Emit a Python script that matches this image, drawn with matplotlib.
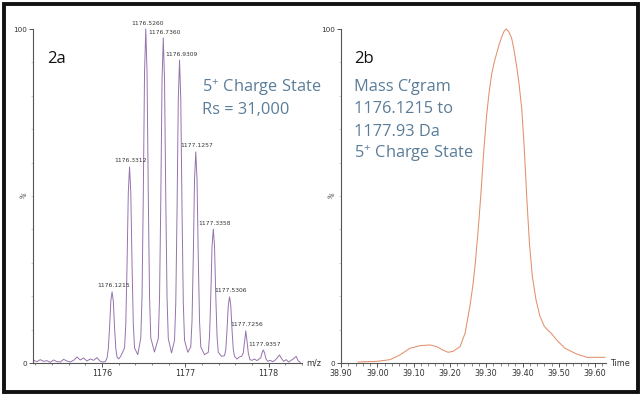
import matplotlib
matplotlib.use("Agg")
import matplotlib.pyplot as plt
from matplotlib.patches import Rectangle
from matplotlib.ticker import MultipleLocator, FixedLocator

# ---------------- data ----------------
# Panel 2a: mass spectrum profile (m/z, relative intensity %)
mz_profile = [
    1175.18, 1175.22, 1175.26, 1175.30, 1175.34, 1175.38, 1175.42, 1175.46, 1175.50, 1175.54,
    1175.58, 1175.62, 1175.66, 1175.70, 1175.74, 1175.78, 1175.82, 1175.86, 1175.90, 1175.94,
    1175.98, 1176.01, 1176.04,
    1176.0615, 1176.0765, 1176.0915, 1176.1065, 1176.1215, 1176.1365, 1176.1515, 1176.1665, 1176.1815,
    1176.200, 1176.225,
    1176.2712, 1176.2862, 1176.3012, 1176.3162, 1176.3312, 1176.3462, 1176.3612, 1176.3762, 1176.3912,
    1176.430,
    1176.466, 1176.481, 1176.496, 1176.511, 1176.526, 1176.541, 1176.556, 1176.571, 1176.586,
    1176.630,
    1176.676, 1176.691, 1176.706, 1176.721, 1176.736, 1176.751, 1176.766, 1176.781, 1176.796,
    1176.835,
    1176.8709, 1176.8859, 1176.9009, 1176.9159, 1176.9309, 1176.9459, 1176.9609, 1176.9759, 1176.9909,
    1177.030,
    1177.0657, 1177.0807, 1177.0957, 1177.1107, 1177.1257, 1177.1407, 1177.1557, 1177.1707, 1177.1857,
    1177.230,
    1177.2758, 1177.2908, 1177.3058, 1177.3208, 1177.3358, 1177.3508, 1177.3658, 1177.3808, 1177.3958,
    1177.435,
    1177.4706, 1177.4856, 1177.5006, 1177.5156, 1177.5306, 1177.5456, 1177.5606, 1177.5756, 1177.5906,
    1177.620, 1177.650, 1177.675,
    1177.6956, 1177.7106, 1177.7256, 1177.7406, 1177.7556, 1177.775,
    1177.800, 1177.830, 1177.860, 1177.885,
    1177.905, 1177.920, 1177.9357, 1177.950, 1177.968, 1177.990, 1178.020, 1178.050, 1178.080, 1178.105,
    1178.130, 1178.155, 1178.180, 1178.210, 1178.240, 1178.270, 1178.300,
    1178.330, 1178.355, 1178.380,
]
int_profile = [
    0.8, 0.4, 1.0, 0.5, 0.7, 0.2, 0.9, 0.4, 0.3, 1.1,
    0.6, 0.3, 0.8, 1.8, 0.9, 1.5, 0.6, 1.2, 0.8, 1.6,
    0.5, 0.3, 0.4,
    1.5, 4.3, 10.6, 18.5, 21.3, 18.5, 10.6, 4.3, 1.8,
    1.2, 2.0,
    4.5, 11.7, 29.4, 51.0, 58.7, 51.0, 29.4, 11.7, 4.5,
    2.5,
    7.5, 20.0, 50.0, 87.0, 100.0, 87.0, 50.0, 20.0, 7.5,
    3.3,
    7.3, 19.5, 48.7, 84.7, 97.3, 84.7, 48.7, 19.5, 7.3,
    3.0,
    6.8, 18.1, 45.4, 78.9, 90.7, 78.9, 45.4, 18.1, 6.8,
    3.2,
    4.8, 12.6, 31.6, 55.0, 63.2, 55.0, 31.6, 12.6, 4.8,
    2.5,
    3.2, 8.0, 20.0, 34.9, 40.1, 34.9, 20.0, 8.0, 3.2,
    2.0,
    2.2, 4.0, 9.9, 17.2, 19.8, 17.2, 9.9, 4.0, 2.0,
    1.2, 1.8, 2.0,
    3.0, 6.2, 9.6, 6.5, 3.0, 1.0,
    0.8, 1.2, 0.7, 1.2,
    1.6, 3.0, 3.9, 3.1, 1.2, 0.5, 0.8, 0.4, 0.9, 1.6,
    2.4, 1.3, 0.5, 1.0, 0.3, 0.8, 1.3,
    2.0, 0.6, 0.2,
]
peak_mz = [1176.1215, 1176.3312, 1176.5260, 1176.7360, 1176.9309,
           1177.1257, 1177.3358, 1177.5306, 1177.7256, 1177.9357]
peak_int = [21.3, 58.7, 100.0, 97.3, 90.7, 63.2, 40.1, 19.8, 9.6, 3.9]
peak_labels = ["1176.1215", "1176.3312", "1176.5260", "1176.7360", "1176.9309",
               "1177.1257", "1177.3358", "1177.5306", "1177.7256", "1177.9357"]
mz_ticks = [1176, 1177, 1178]

# Panel 2b: mass chromatogram (time, relative intensity %)
time_profile = [38.947, 39.000, 39.035, 39.062, 39.090, 39.118, 39.145, 39.164, 39.180, 39.195,
                39.209, 39.228, 39.242, 39.255, 39.263, 39.270, 39.278, 39.285, 39.293, 39.301,
                39.308, 39.315, 39.322, 39.329, 39.336, 39.343, 39.349, 39.355, 39.362, 39.370,
                39.377, 39.384, 39.390, 39.398, 39.405, 39.412, 39.419, 39.427, 39.437, 39.448,
                39.460, 39.470, 39.480, 39.494, 39.517, 39.549, 39.577, 39.627]
chrom_int = [0.3, 0.5, 1.0, 2.4, 4.4, 5.2, 5.4, 4.9, 3.9, 3.2,
             3.5, 4.9, 9.0, 16.9, 23.0, 30.0, 40.0, 50.0, 63.0, 74.0,
             81.0, 86.5, 90.0, 92.8, 95.5, 97.7, 99.3, 100.0, 99.2, 97.3,
             93.5, 88.7, 84.0, 76.0, 64.0, 49.0, 36.0, 26.0, 19.0, 14.0,
             11.0, 9.8, 8.8, 6.9, 4.4, 2.7, 1.7, 1.7]
time_ticks = [38.90, 39.00, 39.10, 39.20, 39.30, 39.40, 39.50, 39.60]
time_tick_labels = ["38.90", "39.00", "39.10", "39.20", "39.30", "39.40", "39.50", "39.60"]

# annotation text lines
left_lines = ["5$^{+}$ Charge State", "Rs = 31,000"]
right_lines = ["Mass C\u2019gram", "1176.1215 to", "1177.93 Da", "5$^{+}$ Charge State"]

# ---------------- styling ----------------
plt.rcParams['mathtext.fontset'] = 'custom'
plt.rcParams['mathtext.rm'] = 'Open Sans'
plt.rcParams['mathtext.it'] = 'Open Sans'
plt.rcParams['mathtext.bf'] = 'Open Sans'

W, H = 644, 398
fig = plt.figure(figsize=(W / 100, H / 100), dpi=100)
fig.patch.set_facecolor('white')

spec_color = '#9573ad'
chrom_color = '#e2906a'
text_blue = '#5a7c98'
axis_color = '#555555'
tick_fs = 5.2
big_fs = 11.8

AX_TOP, AX_BOT = 29, 363

def px_axes(x0, x1):
    return fig.add_axes([x0 / W, 1 - AX_BOT / H, (x1 - x0) / W, (AX_BOT - AX_TOP) / H])

def yfrac(py):
    return 1 - (py - AX_TOP) / (AX_BOT - AX_TOP)

def style_axes(ax):
    for s in ['top', 'right']:
        ax.spines[s].set_visible(False)
    for s in ['left', 'bottom']:
        ax.spines[s].set_color(axis_color)
        ax.spines[s].set_linewidth(0.8)
    ax.set_ylim(0, 100)
    ax.yaxis.set_major_locator(FixedLocator([0, 100]))
    ax.set_yticklabels(['0', '100'])
    ax.yaxis.set_minor_locator(MultipleLocator(10))
    ax.tick_params(axis='y', which='major', length=3, width=0.7, colors=axis_color,
                   labelsize=tick_fs, pad=1, labelcolor='#333333')
    ax.tick_params(axis='y', which='minor', length=1.5, width=0.5, colors='#bbbbbb')
    ax.tick_params(axis='x', which='major', length=3, width=0.7, colors=axis_color,
                   labelsize=tick_fs + 0.6, pad=1.5, labelcolor='#333333')
    ax.tick_params(axis='x', which='minor', length=2, width=0.5, colors=axis_color)
    ax.text(-0.035, 0.5, '%', transform=ax.transAxes, rotation=60, fontsize=tick_fs,
            ha='center', va='center', color='#444444')
    ax.patch.set_alpha(0)

def write_lines(ax, xf, baselines_px, lines):
    for py, line in zip(baselines_px, lines):
        ax.text(xf, yfrac(py), line, transform=ax.transAxes, fontsize=big_fs,
                family='Open Sans', color=text_blue, va='baseline', ha='left')

# ---- Panel 2a ----
ax1 = px_axes(33, 302)
style_axes(ax1)
ax1.plot(mz_profile, int_profile, color=spec_color, lw=0.7, clip_on=False)
ax1.set_xlim(1175.173, 1178.40)
ax1.xaxis.set_major_locator(FixedLocator(mz_ticks))
ax1.set_xticklabels([str(t) for t in mz_ticks])
ax1.xaxis.set_minor_locator(MultipleLocator(0.2))
ax1.tick_params(axis='x', which='minor', length=1.2)
for x, y, lab in zip(peak_mz, peak_int, peak_labels):
    ax1.annotate(lab, xy=(x, y), xytext=(1, 2.5), textcoords='offset points',
                 ha='center', va='bottom', fontsize=4.3, color='#333333')
ax1.annotate('m/z', xy=(1, 0), xycoords='axes fraction', xytext=(3, 0),
             textcoords='offset points', ha='left', va='center', fontsize=tick_fs + 0.6,
             color='#333333')
ax1.text(0.052, yfrac(63), '2a', transform=ax1.transAxes, fontsize=12, family='Open Sans',
         color='#111111', va='baseline', ha='left')
write_lines(ax1, 0.628, [92, 114], left_lines)

# ---- Panel 2b ----
ax2 = px_axes(341, 606)
style_axes(ax2)
ax2.plot(time_profile, chrom_int, color=chrom_color, lw=0.75, clip_on=False)
ax2.set_xlim(38.90, 39.63)
ax2.xaxis.set_major_locator(FixedLocator(time_ticks))
ax2.set_xticklabels(time_tick_labels)
ax2.xaxis.set_minor_locator(MultipleLocator(0.02))
ax2.annotate('Time', xy=(1, 0), xycoords='axes fraction', xytext=(3, 0),
             textcoords='offset points', ha='left', va='center', fontsize=tick_fs + 0.6,
             color='#333333')
ax2.text(0.049, yfrac(63), '2b', transform=ax2.transAxes, fontsize=12, family='Open Sans',
         color='#111111', va='baseline', ha='left')
write_lines(ax2, 0.049, [91, 113, 136, 158], right_lines)

# ---- border ----
fig.add_artist(Rectangle((4 / W, 1 - 392 / H), 634 / W, 388 / H, transform=fig.transFigure,
                         fill=False, edgecolor='#111111', linewidth=2.8))

fig.savefig('out.png', dpi=100)
